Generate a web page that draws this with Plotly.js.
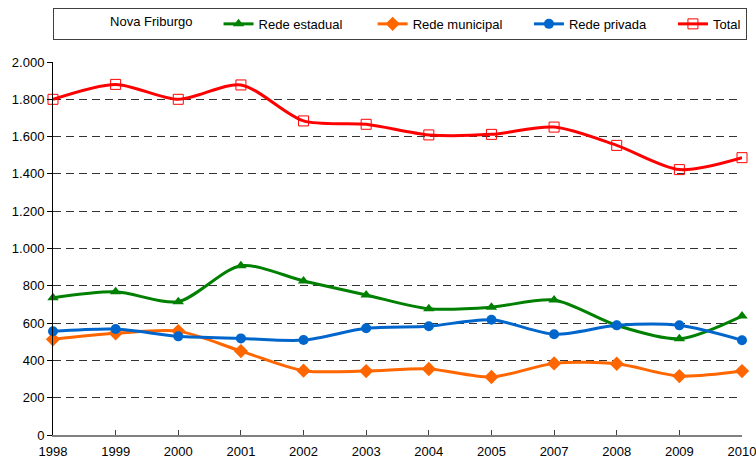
<!DOCTYPE html>
<html>
<head>
<meta charset="utf-8">
<script src="https://cdn.plot.ly/plotly-3.0.1.min.js"></script>
<style>html,body{margin:0;padding:0;background:#fff;}#chart{width:756px;height:459px;}</style>
</head>
<body>
<div id="chart"></div>
<script>
const years = ['1998','1999','2000','2001','2002','2003','2004','2005','2007','2008','2009','2010'];
const redeEstadual = [736, 768, 715, 908, 826, 751, 677, 685, 724, 588, 516, 638];
const redeMunicipal = [513, 545, 557, 450, 345, 343, 354, 311, 384, 382, 316, 343];
const redePrivada = [556, 568, 529, 518, 509, 572, 583, 618, 540, 588, 588, 508];
const total = [1800, 1880, 1800, 1877, 1684, 1666, 1609, 1612, 1651, 1553, 1423, 1487];
const yTicks = [0, 200, 400, 600, 800, 1000, 1200, 1400, 1600, 1800, 2000];

const FONT = 'Liberation Sans, Arial, sans-serif';
const pad = n => '&nbsp;'.repeat(n);

function series(name, padAfter, y, color, symbol, size, extraMarker) {
  return {
    type: 'scatter', mode: 'lines+markers', name: name + pad(padAfter),
    x: years, y: y, xaxis: 'x', yaxis: 'y',
    cliponaxis: false,
    line: {color: color, width: 3, shape: 'spline', smoothing: 0.8},
    marker: Object.assign({color: color, symbol: symbol, size: size}, extraMarker || {})
  };
}

const data = [
  series('Rede estadual', 7, redeEstadual, '#008000', 'triangle-up', 10),
  series('Rede municipal', 6, redeMunicipal, '#FF6600', 'diamond', 11),
  series('Rede privada', 6, redePrivada, '#0066CC', 'circle', 10),
  series('Total', 0, total, '#FF0000', 'square-open', 10, {line: {color: '#FF0000', width: 1}})
];

const layout = {
  width: 756, height: 459,
  margin: {l: 53, r: 14, t: 62, b: 24, autoexpand: false},
  paper_bgcolor: '#ffffff', plot_bgcolor: 'rgba(0,0,0,0)',
  separators: ',.',
  font: {family: FONT, size: 13, color: '#000'},
  showlegend: true,
  legend: {
    orientation: 'h', x: -0.0001, xanchor: 'left', y: 1.145, yanchor: 'top',
    bgcolor: '#ffffff', bordercolor: '#404040', borderwidth: 1,
    font: {family: FONT, size: 13, color: '#000'},
    itemwidth: 30, valign: 'middle',
    title: {text: pad(15) + 'Nova Friburgo' + pad(5), side: 'left', font: {family: FONT, size: 13, color: '#000'}}
  },
  xaxis: {
    type: 'category', range: [0, 11],
    showline: true, linecolor: '#808080', linewidth: 2,
    ticks: 'inside', ticklen: 5, tickcolor: '#404040', tickwidth: 1,
    ticklabelstandoff: 3,
    showgrid: false, zeroline: false,
    tickfont: {family: FONT, size: 13, color: '#000'}
  },
  xaxis2: {
    overlaying: 'x', anchor: 'y', side: 'bottom', range: [0, 11],
    tickmode: 'linear', tick0: 0, dtick: 1,
    ticks: 'outside', ticklen: 4, tickcolor: '#404040', tickwidth: 1,
    showticklabels: false, showgrid: false, zeroline: false, showline: false
  },
  yaxis: {
    range: [0, 2000], tickvals: yTicks, tickformat: ',d',
    showline: true, linecolor: '#000', linewidth: 1,
    ticks: 'outside', ticklen: 5, tickcolor: '#000', tickwidth: 1,
    showgrid: true, gridcolor: '#333333', gridwidth: 1, griddash: '8px,5px',
    zeroline: false,
    tickfont: {family: FONT, size: 13, color: '#000'}
  }
};

Plotly.newPlot('chart', data, layout, {displayModeBar: false, staticPlot: true});
</script>
</body>
</html>
